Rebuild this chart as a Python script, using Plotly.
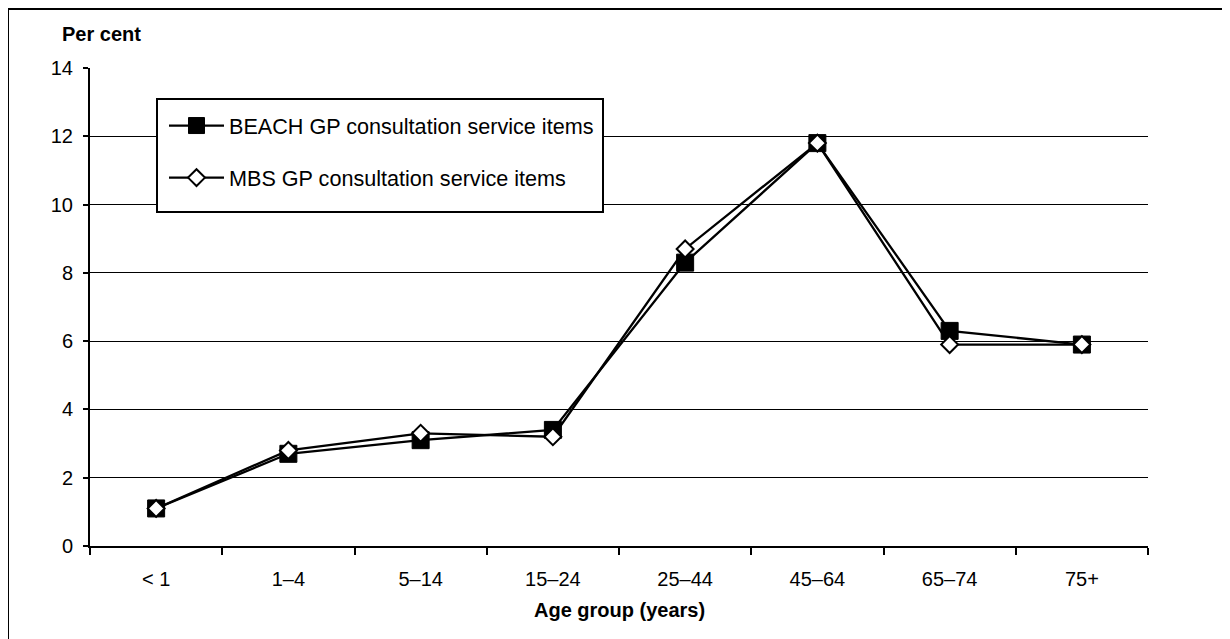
import plotly.graph_objects as go

categories = ["< 1", "1\u20134", "5\u201314", "15\u201324", "25\u201344", "45\u201364", "65\u201374", "75+"]
beach = [1.1, 2.7, 3.1, 3.4, 8.3, 11.8, 6.3, 5.9]
mbs = [1.1, 2.8, 3.3, 3.2, 8.7, 11.8, 5.9, 5.9]
y_ticks = [0, 2, 4, 6, 8, 10, 12, 14]

# page body has an 8px margin; work in screen coords and offset
OFF = 8
W, H = 1230 - OFF, 639 - OFF
L, R, T, B = 90 - OFF, 1148 - OFF, 68 - OFF, 546 - OFF
pw, ph = R - L, B - T

def px(x):
    return (x - OFF - L) / pw

def py(y):
    return (B - (y - OFF)) / ph

FONT = "Liberation Sans, Arial, sans-serif"

fig = go.Figure()
fig.add_trace(go.Scatter(
    x=categories, y=beach, mode="lines+markers",
    name="BEACH GP consultation service items",
    line=dict(color="black", width=2.3),
    marker=dict(symbol="square", size=17, color="black", line=dict(color="black", width=1)),
    legendgroup="a",
))
fig.add_trace(go.Scatter(
    x=categories, y=mbs, mode="lines+markers",
    name="MBS GP consultation service items",
    line=dict(color="black", width=2.3),
    marker=dict(symbol="diamond", size=13, color="white", line=dict(color="black", width=2)),
    legendgroup="b",
))

fig.update_layout(
    width=W, height=H,
    margin=dict(l=L, r=W - R, t=T, b=H - B),
    paper_bgcolor="white", plot_bgcolor="white",
    font=dict(family=FONT, size=20, color="black"),
    showlegend=True,
    legend=dict(
        x=px(164), y=py(105), xanchor="left", yanchor="top",
        bgcolor="rgba(0,0,0,0)", borderwidth=0,
        font=dict(family=FONT, size=21.6, color="black"),
        traceorder="grouped", tracegroupgap=21,
        itemwidth=55,
    ),
    xaxis=dict(
        type="category", range=[-0.5, 7.5],
        showline=True, linecolor="black", linewidth=2,
        ticks="outside", ticklen=7, tickwidth=2, tickcolor="black",
        tickson="boundaries", showgrid=False,
        tickfont=dict(family=FONT, size=20, color="black"),
        ticklabelstandoff=14,
        fixedrange=True,
    ),
    yaxis=dict(
        range=[0, 14], tickvals=y_ticks,
        showline=True, linecolor="black", linewidth=2,
        ticks="outside", ticklen=5, tickwidth=2, tickcolor="black",
        showgrid=True, gridcolor="black", gridwidth=1,
        zeroline=False,
        tickfont=dict(family=FONT, size=20, color="black"),
        ticklabelstandoff=6,
        fixedrange=True,
    ),
    shapes=[
        dict(type="rect", xref="paper", yref="paper",
             x0=px(8), x1=px(1228), y0=py(660), y1=py(9),
             line=dict(color="black", width=2), fillcolor="rgba(0,0,0,0)", layer="below"),
        dict(type="rect", xref="paper", yref="paper",
             x0=px(157), x1=px(603), y0=py(212), y1=py(99),
             line=dict(color="black", width=2), fillcolor="white", layer="above"),
    ],
    annotations=[
        dict(text="<b>Per cent</b>", xref="paper", yref="paper",
             x=px(60), y=py(34), xanchor="left", yanchor="middle",
             showarrow=False, font=dict(family=FONT, size=20, color="black")),
        dict(text="<b>Age group (years)</b>", xref="paper", yref="paper",
             x=px(619), y=py(610), xanchor="center", yanchor="middle",
             showarrow=False, font=dict(family=FONT, size=20, color="black")),
    ],
)

fig.write_html("out.html", config={"displayModeBar": False})
